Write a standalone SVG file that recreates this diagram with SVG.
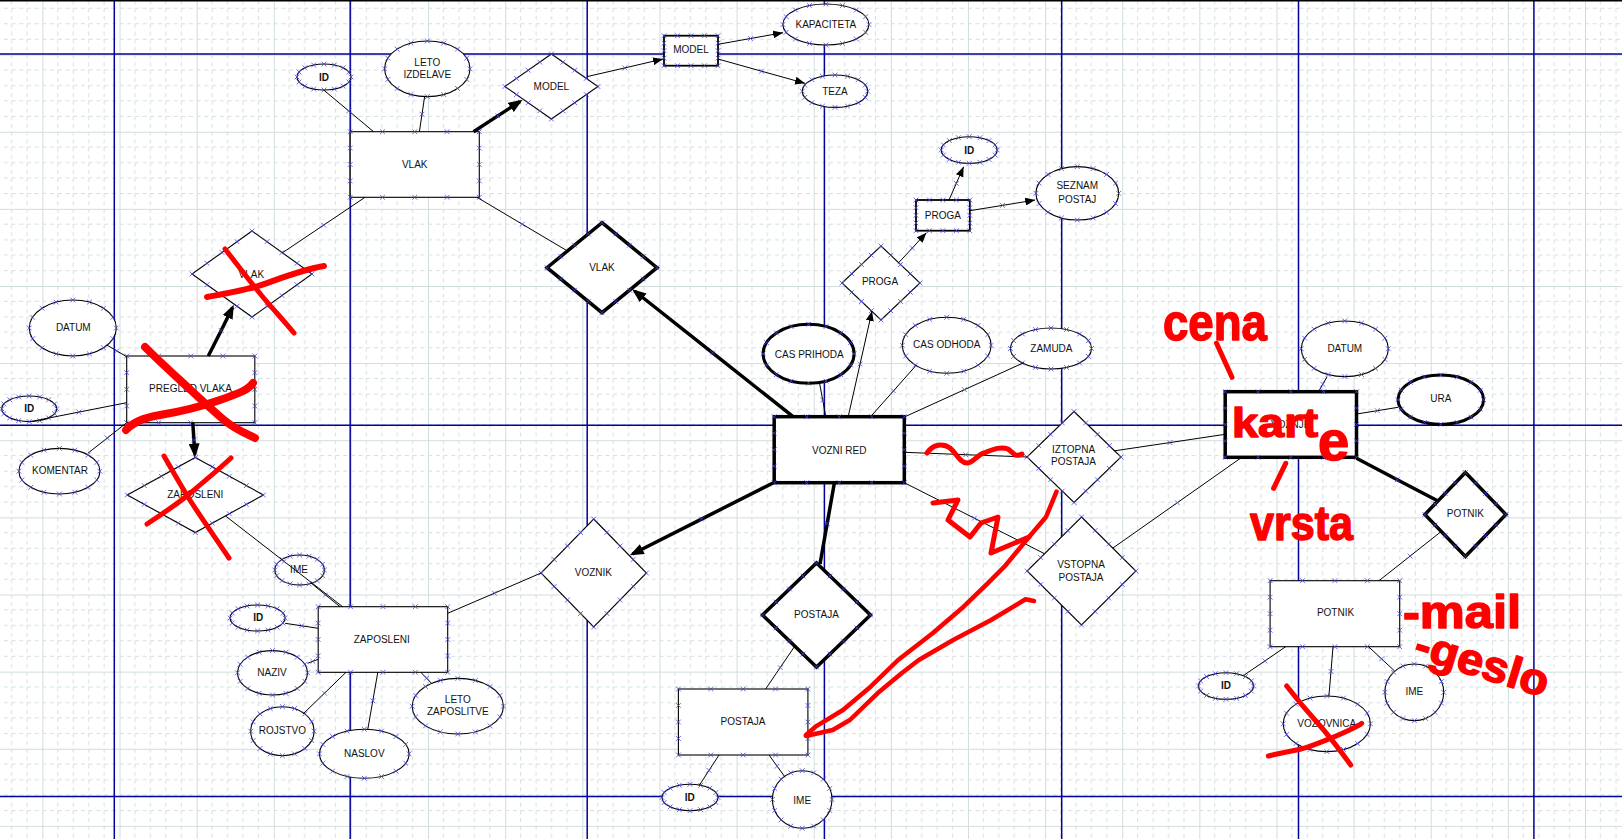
<svg xmlns="http://www.w3.org/2000/svg" width="1622" height="839" viewBox="0 0 1622 839">
<style>
.n{fill:#fff;stroke:#000;stroke-width:1.1}
.nm{fill:#fff;stroke:#000;stroke-width:1.8}
.nk{fill:#fff;stroke:#000;stroke-width:3.5}
.ek{fill:#fff;stroke:#000;stroke-width:3}
.c{fill:none;stroke:#000;stroke-width:1;marker-mid:url(#mx)}
.a{fill:none;stroke:#000;stroke-width:1;marker-mid:url(#mx);marker-end:url(#ah)}
.t{fill:none;stroke:#000;stroke-width:3.5;marker-mid:url(#mx)}
.ta{fill:none;stroke:#000;stroke-width:3.5;marker-mid:url(#mx);marker-end:url(#aht)}
.gl{stroke:#00009a;stroke-width:1.5}
text{font-family:"Liberation Sans",Arial,sans-serif;font-size:10px;fill:#111;text-anchor:middle;dominant-baseline:central}
.b{font-weight:bold}
.r{fill:none;stroke:#f00;stroke-linecap:round;stroke-linejoin:round}
text.rt{font-family:"Liberation Sans",Arial,sans-serif;font-weight:bold;fill:#f00;stroke:#f00;stroke-width:1.5;stroke-linejoin:round;text-anchor:start;dominant-baseline:auto}
</style>
<defs>
<pattern id="grid" patternUnits="userSpaceOnUse" x="42.4" y="54.6" width="77.13" height="77.13">
<path d="M15.43,0V77.13M30.85,0V77.13M46.28,0V77.13M61.7,0V77.13M0,15.43H77.13M0,30.85H77.13M0,46.28H77.13M0,61.7H77.13" stroke="#d3dfdf" stroke-width="1" stroke-dasharray="4 3.713" fill="none"/>
<path d="M0.5,0V77.13M0,0.5H77.13" stroke="#d0dcdc" stroke-width="1" fill="none"/>
</pattern>
<marker id="mx" markerUnits="userSpaceOnUse" viewBox="0 0 8 8" refX="4" refY="4" markerWidth="8" markerHeight="8" orient="0"><path d="M1.6,1.6L6.4,6.4M1.6,6.4L6.4,1.6" stroke="#4646d8" stroke-width="0.8" fill="none"/></marker>
<marker id="ah" markerUnits="userSpaceOnUse" viewBox="0 0 10 8" refX="10" refY="4" markerWidth="10" markerHeight="8" orient="auto"><path d="M0,0L10,4L0,8z" fill="#000"/></marker>
<marker id="aht" markerUnits="userSpaceOnUse" viewBox="0 0 14 11" refX="11" refY="5.5" markerWidth="14" markerHeight="11" orient="auto"><path d="M0,0L14,5.5L0,11z" fill="#000"/></marker>
<g id="xm"><path d="M-2.4,-2.4L2.4,2.4M-2.4,2.4L2.4,-2.4" stroke="#4646d8" stroke-width="0.8" fill="none"/></g>
<g id="er">
<use href="#xm" style="transform:translate(calc(var(--w)*1px),0px)"/>
<use href="#xm" style="transform:translate(calc(var(--w)*.924px),calc(var(--h)*.383px))"/>
<use href="#xm" style="transform:translate(calc(var(--w)*.707px),calc(var(--h)*.707px))"/>
<use href="#xm" style="transform:translate(calc(var(--w)*.383px),calc(var(--h)*.924px))"/>
<use href="#xm" style="transform:translate(0px,calc(var(--h)*1px))"/>
<use href="#xm" style="transform:translate(calc(var(--w)*-.383px),calc(var(--h)*.924px))"/>
<use href="#xm" style="transform:translate(calc(var(--w)*-.707px),calc(var(--h)*.707px))"/>
<use href="#xm" style="transform:translate(calc(var(--w)*-.924px),calc(var(--h)*.383px))"/>
<use href="#xm" style="transform:translate(calc(var(--w)*-1px),0px)"/>
<use href="#xm" style="transform:translate(calc(var(--w)*-.924px),calc(var(--h)*-.383px))"/>
<use href="#xm" style="transform:translate(calc(var(--w)*-.707px),calc(var(--h)*-.707px))"/>
<use href="#xm" style="transform:translate(calc(var(--w)*-.383px),calc(var(--h)*-.924px))"/>
<use href="#xm" style="transform:translate(0px,calc(var(--h)*-1px))"/>
<use href="#xm" style="transform:translate(calc(var(--w)*.383px),calc(var(--h)*-.924px))"/>
<use href="#xm" style="transform:translate(calc(var(--w)*.707px),calc(var(--h)*-.707px))"/>
<use href="#xm" style="transform:translate(calc(var(--w)*.924px),calc(var(--h)*-.383px))"/>
</g>
<g id="rr">
<use href="#xm" style="transform:translate(calc(var(--w)*1px),calc(var(--h)*1px))"/>
<use href="#xm" style="transform:translate(calc(var(--w)*.5px),calc(var(--h)*1px))"/>
<use href="#xm" style="transform:translate(0px,calc(var(--h)*1px))"/>
<use href="#xm" style="transform:translate(calc(var(--w)*-.5px),calc(var(--h)*1px))"/>
<use href="#xm" style="transform:translate(calc(var(--w)*-1px),calc(var(--h)*1px))"/>
<use href="#xm" style="transform:translate(calc(var(--w)*-1px),calc(var(--h)*.5px))"/>
<use href="#xm" style="transform:translate(calc(var(--w)*-1px),0px)"/>
<use href="#xm" style="transform:translate(calc(var(--w)*-1px),calc(var(--h)*-.5px))"/>
<use href="#xm" style="transform:translate(calc(var(--w)*-1px),calc(var(--h)*-1px))"/>
<use href="#xm" style="transform:translate(calc(var(--w)*-.5px),calc(var(--h)*-1px))"/>
<use href="#xm" style="transform:translate(0px,calc(var(--h)*-1px))"/>
<use href="#xm" style="transform:translate(calc(var(--w)*.5px),calc(var(--h)*-1px))"/>
<use href="#xm" style="transform:translate(calc(var(--w)*1px),calc(var(--h)*-1px))"/>
<use href="#xm" style="transform:translate(calc(var(--w)*1px),calc(var(--h)*-.5px))"/>
<use href="#xm" style="transform:translate(calc(var(--w)*1px),0px)"/>
<use href="#xm" style="transform:translate(calc(var(--w)*1px),calc(var(--h)*.5px))"/>
</g>
<g id="dr">
<use href="#xm" style="transform:translate(calc(var(--w)*1px),0px)"/>
<use href="#xm" style="transform:translate(calc(var(--w)*.75px),calc(var(--h)*.25px))"/>
<use href="#xm" style="transform:translate(calc(var(--w)*.5px),calc(var(--h)*.5px))"/>
<use href="#xm" style="transform:translate(calc(var(--w)*.25px),calc(var(--h)*.75px))"/>
<use href="#xm" style="transform:translate(0px,calc(var(--h)*1px))"/>
<use href="#xm" style="transform:translate(calc(var(--w)*-.25px),calc(var(--h)*.75px))"/>
<use href="#xm" style="transform:translate(calc(var(--w)*-.5px),calc(var(--h)*.5px))"/>
<use href="#xm" style="transform:translate(calc(var(--w)*-.75px),calc(var(--h)*.25px))"/>
<use href="#xm" style="transform:translate(calc(var(--w)*-1px),0px)"/>
<use href="#xm" style="transform:translate(calc(var(--w)*-.75px),calc(var(--h)*-.25px))"/>
<use href="#xm" style="transform:translate(calc(var(--w)*-.5px),calc(var(--h)*-.5px))"/>
<use href="#xm" style="transform:translate(calc(var(--w)*-.25px),calc(var(--h)*-.75px))"/>
<use href="#xm" style="transform:translate(0px,calc(var(--h)*-1px))"/>
<use href="#xm" style="transform:translate(calc(var(--w)*.25px),calc(var(--h)*-.75px))"/>
<use href="#xm" style="transform:translate(calc(var(--w)*.5px),calc(var(--h)*-.5px))"/>
<use href="#xm" style="transform:translate(calc(var(--w)*.75px),calc(var(--h)*-.25px))"/>
</g>
</defs>
<rect width="1622" height="839" fill="#fff"/>
<rect width="1622" height="839" fill="url(#grid)"/>
<g id="page-lines" class="gl">
<line x1="114.3" y1="0" x2="114.3" y2="839"/><line x1="350.2" y1="0" x2="350.2" y2="839"/><line x1="587.2" y1="0" x2="587.2" y2="839"/><line x1="824.4" y1="0" x2="824.4" y2="839"/><line x1="1061.7" y1="0" x2="1061.7" y2="839"/><line x1="1298.5" y1="0" x2="1298.5" y2="839"/><line x1="1533.9" y1="0" x2="1533.9" y2="839"/>
<line x1="0" y1="54" x2="1622" y2="54"/><line x1="0" y1="425.3" x2="1622" y2="425.3"/><line x1="0" y1="796.5" x2="1622" y2="796.5"/>
</g>
<line x1="0" y1="0.75" x2="1622" y2="0.75" stroke="#000" stroke-width="1.5"/>

<g id="nodes">
<g id="vlak"><rect class="n" x="350.2" y="131.7" width="129.1" height="65.6"/><use href="#rr" transform="translate(414.75 164.5)" style="--w:64.55;--h:32.8"/><text x="414.75" y="164">VLAK</text></g>
<g id="vlak-id"><ellipse class="n" cx="324" cy="77" rx="27" ry="13"/><use href="#er" transform="translate(324 77)" style="--w:27;--h:13"/><text class="b" x="324" y="77">ID</text></g>
<g id="vlak-leto"><ellipse class="n" cx="427.3" cy="68.8" rx="42.7" ry="27.8"/><use href="#er" transform="translate(427.3 68.8)" style="--w:42.7;--h:27.8"/><text x="427.3" y="62.7">LETO</text><text x="427.3" y="74.7">IZDELAVE</text></g>
<g id="model-rel"><polygon class="n" points="551.4,54 597.9,86.5 551.4,119 504.9,86.5"/><use href="#dr" transform="translate(551.4 86.5)" style="--w:46.5;--h:32.5"/><text x="551.4" y="86.5">MODEL</text></g>
<g id="model"><rect class="nm" x="664" y="35.7" width="54" height="30"/><use href="#rr" transform="translate(691 50.7)" style="--w:27;--h:15"/><text x="691" y="49.8">MODEL</text></g>
<g id="kapaciteta"><ellipse class="n" cx="825.9" cy="24.5" rx="43" ry="20.5"/><use href="#er" transform="translate(825.9 24.5)" style="--w:43;--h:20.5"/><text x="825.9" y="24">KAPACITETA</text></g>
<g id="teza"><ellipse class="n" cx="835" cy="91.2" rx="32.7" ry="16.2"/><use href="#er" transform="translate(835 91.2)" style="--w:32.7;--h:16.2"/><text x="835" y="91">TEZA</text></g>
<g id="vlak-rel-x"><polygon class="n" points="252,231 312,274 252,317 192,274"/><use href="#dr" transform="translate(252 274)" style="--w:60;--h:43"/><text x="251.4" y="274">VLAK</text></g>
<g id="vlak-rel"><polygon class="nk" points="602,222.7 657,267.7 602,312.7 547,267.7"/><use href="#dr" transform="translate(602 267.7)" style="--w:55;--h:45"/><text x="602" y="267.7">VLAK</text></g>
<g id="proga-rel"><polygon class="n" points="881,246 920,283 881,320 842,283"/><use href="#dr" transform="translate(881 283)" style="--w:39;--h:37"/><text x="880" y="281.5">PROGA</text></g>
<g id="proga"><rect class="nm" x="916" y="200" width="53.8" height="30.7"/><use href="#rr" transform="translate(942.9 215.35)" style="--w:26.9;--h:15.35"/><text x="942.9" y="215.3">PROGA</text></g>
<g id="proga-id"><ellipse class="n" cx="969.2" cy="150" rx="28" ry="13.3"/><use href="#er" transform="translate(969.2 150)" style="--w:28;--h:13.3"/><text class="b" x="969.2" y="150">ID</text></g>
<g id="seznam"><ellipse class="n" cx="1077.3" cy="193.3" rx="41.4" ry="26.7"/><use href="#er" transform="translate(1077.3 193.3)" style="--w:41.4;--h:26.7"/><text x="1077.3" y="185.3">SEZNAM</text><text x="1077.3" y="199">POSTAJ</text></g>
<g id="pregled"><rect class="n" x="126.7" y="356" width="128.1" height="66.7"/><use href="#rr" transform="translate(190.75 389.35)" style="--w:64.05;--h:33.35"/><text x="190.5" y="388.3">PREGLED VLAKA</text></g>
<g id="pregled-datum"><ellipse class="n" cx="72.8" cy="328" rx="43.5" ry="28"/><use href="#er" transform="translate(72.8 328)" style="--w:43.5;--h:28"/><text x="73.3" y="327.5">DATUM</text></g>
<g id="pregled-id"><ellipse class="n" cx="29.2" cy="408.8" rx="27.5" ry="12.8"/><use href="#er" transform="translate(29.2 408.8)" style="--w:27.5;--h:12.8"/><text class="b" x="29.3" y="408">ID</text></g>
<g id="komentar"><ellipse class="n" cx="59.4" cy="471.2" rx="40.5" ry="22.8"/><use href="#er" transform="translate(59.4 471.2)" style="--w:40.5;--h:22.8"/><text x="60" y="470.7">KOMENTAR</text></g>
<g id="zap-rel-x"><polygon class="n" points="195.3,457.5 263.3,495 195.3,532.5 127.3,495"/><use href="#dr" transform="translate(195.3 495)" style="--w:68;--h:37.5"/><text x="195.3" y="494">ZAPOSLENI</text></g>
<g id="zaposleni"><rect class="n" x="318.2" y="606.7" width="129.5" height="65.6"/><use href="#rr" transform="translate(382.95 639.5)" style="--w:64.75;--h:32.8"/><text x="381.8" y="639">ZAPOSLENI</text></g>
<g id="zap-ime"><ellipse class="n" cx="299.6" cy="570" rx="24.8" ry="15"/><use href="#er" transform="translate(299.6 570)" style="--w:24.8;--h:15"/><text x="299" y="569.3">IME</text></g>
<g id="zap-id"><ellipse class="n" cx="257.6" cy="618" rx="27.5" ry="13"/><use href="#er" transform="translate(257.6 618)" style="--w:27.5;--h:13"/><text class="b" x="258.3" y="617.7">ID</text></g>
<g id="naziv"><ellipse class="n" cx="272.5" cy="672.8" rx="35" ry="22.2"/><use href="#er" transform="translate(272.5 672.8)" style="--w:35;--h:22.2"/><text x="272" y="672.7">NAZIV</text></g>
<g id="rojstvo"><ellipse class="n" cx="282.4" cy="731.2" rx="31.7" ry="24.5"/><use href="#er" transform="translate(282.4 731.2)" style="--w:31.7;--h:24.5"/><text x="282.4" y="730.7">ROJSTVO</text></g>
<g id="naslov"><ellipse class="n" cx="364.3" cy="753.8" rx="44.8" ry="24.5"/><use href="#er" transform="translate(364.3 753.8)" style="--w:44.8;--h:24.5"/><text x="364.3" y="753.3">NASLOV</text></g>
<g id="leto-zap"><ellipse class="n" cx="457.8" cy="706.2" rx="45.6" ry="27.8"/><use href="#er" transform="translate(457.8 706.2)" style="--w:45.6;--h:27.8"/><text x="457.8" y="699.3">LETO</text><text x="457.8" y="711.7">ZAPOSLITVE</text></g>
<g id="voznik"><polygon class="n" points="593.7,519 646.4,573 593.7,627 541,573"/><use href="#dr" transform="translate(593.7 573)" style="--w:52.7;--h:54"/><text x="593.4" y="572.3">VOZNIK</text></g>
<g id="vozni-red"><rect class="nk" x="774.2" y="416.7" width="130.1" height="66"/><use href="#rr" transform="translate(839.25 449.7)" style="--w:65.05;--h:33"/><text x="839.2" y="450">VOZNI RED</text></g>
<g id="cas-prihoda"><ellipse class="ek" cx="808.6" cy="353.8" rx="45.5" ry="29.5"/><use href="#er" transform="translate(808.6 353.8)" style="--w:45.5;--h:29.5"/><text x="809.3" y="354.3">CAS PRIHODA</text></g>
<g id="cas-odhoda"><ellipse class="n" cx="946.7" cy="345.3" rx="44.4" ry="28"/><use href="#er" transform="translate(946.7 345.3)" style="--w:44.4;--h:28"/><text x="946.7" y="344">CAS ODHODA</text></g>
<g id="zamuda"><ellipse class="n" cx="1051" cy="348.5" rx="40.5" ry="20.5"/><use href="#er" transform="translate(1051 348.5)" style="--w:40.5;--h:20.5"/><text x="1051.4" y="348.7">ZAMUDA</text></g>
<g id="postaja-rel"><polygon class="nk" points="816.5,563 870.5,615 816.5,667 762.5,615"/><use href="#dr" transform="translate(816.5 615)" style="--w:54;--h:52"/><text x="816.5" y="614.3">POSTAJA</text></g>
<g id="postaja"><rect class="n" x="678.4" y="689" width="129.5" height="66"/><use href="#rr" transform="translate(743.15 722)" style="--w:64.75;--h:33"/><text x="743" y="721.7">POSTAJA</text></g>
<g id="postaja-id"><ellipse class="n" cx="690" cy="797.5" rx="28" ry="13.2"/><use href="#er" transform="translate(690 797.5)" style="--w:28;--h:13.2"/><text class="b" x="689.8" y="797.7">ID</text></g>
<g id="postaja-ime"><ellipse class="n" cx="802.2" cy="799.5" rx="29.8" ry="28.8"/><use href="#er" transform="translate(802.2 799.5)" style="--w:29.8;--h:28.8"/><text x="802.2" y="800.7">IME</text></g>
<g id="iztopna"><polygon class="n" points="1074,411.5 1121,457 1074,502.5 1027,457"/><use href="#dr" transform="translate(1074 457)" style="--w:47;--h:45.5"/><text x="1073.5" y="449.3">IZTOPNA</text><text x="1073.5" y="461.7">POSTAJA</text></g>
<g id="vstopna"><polygon class="n" points="1081.5,517 1135.9,571 1081.5,625 1027.1,571"/><use href="#dr" transform="translate(1081.5 571)" style="--w:54.4;--h:54"/><text x="1081" y="564.5">VSTOPNA</text><text x="1081" y="577">POSTAJA</text></g>
<g id="karte"><rect class="nk" x="1225.2" y="391.7" width="131.3" height="65.6"/><use href="#rr" transform="translate(1290.85 424.5)" style="--w:65.65;--h:32.8"/><text x="1290.8" y="424">VOZNJE</text></g>
<g id="karte-datum"><ellipse class="n" cx="1344.8" cy="348.8" rx="43.5" ry="27.8"/><use href="#er" transform="translate(1344.8 348.8)" style="--w:43.5;--h:27.8"/><text x="1344.8" y="348.7">DATUM</text></g>
<g id="ura"><ellipse class="ek" cx="1440.8" cy="399.7" rx="42.8" ry="24.7"/><use href="#er" transform="translate(1440.8 399.7)" style="--w:42.8;--h:24.7"/><text x="1440.8" y="398.7">URA</text></g>
<g id="potnik-rel"><polygon class="nk" points="1465.4,472.5 1505.9,514.5 1465.4,556.5 1424.9,514.5"/><use href="#dr" transform="translate(1465.4 514.5)" style="--w:40.5;--h:42"/><text x="1465.4" y="513.3">POTNIK</text></g>
<g id="potnik"><rect class="n" x="1270.1" y="580.7" width="129.6" height="66"/><use href="#rr" transform="translate(1334.9 613.7)" style="--w:64.8;--h:33"/><text x="1335.5" y="612.3">POTNIK</text></g>
<g id="potnik-id"><ellipse class="n" cx="1226" cy="686" rx="27.5" ry="13.3"/><use href="#er" transform="translate(1226 686)" style="--w:27.5;--h:13.3"/><text class="b" x="1226" y="685.7">ID</text></g>
<g id="vozovnica"><ellipse class="n" cx="1326.8" cy="723.8" rx="43.6" ry="27.8"/><use href="#er" transform="translate(1326.8 723.8)" style="--w:43.6;--h:27.8"/><text x="1326.8" y="723.3">VOZOVNICA</text></g>
<g id="potnik-ime"><ellipse class="n" cx="1414.3" cy="692.3" rx="29.4" ry="28.3"/><use href="#er" transform="translate(1414.3 692.3)" style="--w:29.4;--h:28.3"/><text x="1414.3" y="691.7">IME</text></g>
</g>

<g id="connectors">
<path class="c" d="M323.7,90 L348.7,110.9 L373.6,131.7"/>
<path class="c" d="M424.6,96.7 L422,114.2 L419.4,131.7"/>
<path class="c" d="M365,197.3 L323.7,225.1 L282.4,252.8"/>
<path class="c" d="M477,197.3 L522.3,224.2 L567.5,251"/>
<path class="c" d="M106.8,345 L116.8,350.9 L126.7,356.7"/>
<path class="c" d="M31,421.5 L78.9,412.1 L126.7,402.7"/>
<path class="c" d="M87.8,453.3 L107.3,438 L126.7,422.7"/>
<path class="c" d="M225.6,516 L284.1,561.4 L342.6,606.7"/>
<path class="c" d="M311,583 L325.5,594.9 L340,606.7"/>
<path class="c" d="M285.1,623.3 L301.7,625.8 L318.2,628.3"/>
<path class="c" d="M307.5,663.3 L312.9,661.3 L318.2,659.3"/>
<path class="c" d="M303,714 L324.5,693.2 L346,672.3"/>
<path class="c" d="M367.8,729.3 L372.8,700.8 L377.8,672.3"/>
<path class="c" d="M432.2,684 L426.5,678.2 L420.8,672.3"/>
<path class="c" d="M541,573 L494.4,593.2 L447.7,613.3"/>
<path class="c" d="M794.8,646.1 L780.2,667.6 L765.6,689"/>
<path class="c" d="M719,755 L709,770.4 L699.1,785.7"/>
<path class="c" d="M769,755 L777.1,766.2 L785.2,777.3"/>
<path class="c" d="M819.6,383.3 L822.7,400 L825.8,416.7"/>
<path class="c" d="M916.4,365 L893.5,390.9 L870.6,416.7"/>
<path class="c" d="M1023.8,362.7 L964.4,389.7 L905,416.7"/>
<path class="c" d="M904.3,452.3 L965.7,454.7 L1027,457"/>
<path class="c" d="M904.3,482.7 L974.4,518.2 L1044.5,553.7"/>
<path class="c" d="M1114.6,450.8 L1169.9,442.6 L1225.2,434.3"/>
<path class="c" d="M1112.8,548.1 L1177.3,502.7 L1241.8,457.3"/>
<path class="c" d="M1327.1,376.7 L1322.8,384.2 L1318.5,391.7"/>
<path class="c" d="M1356.5,414 L1377.3,410.7 L1398,407.3"/>
<path class="c" d="M1441.2,531.5 L1410.1,556.1 L1379,580.7"/>
<path class="c" d="M1285.7,646.7 L1265,660.9 L1244.2,675"/>
<path class="c" d="M1333,646.7 L1331,671.4 L1328.9,696"/>
<path class="c" d="M1368.6,646.7 L1381.6,658.9 L1394.6,671"/>
<path class="a" d="M586.8,76.7 L624.9,67.9 L663,59"/>
<path class="a" d="M718,44.3 L750.5,38.5 L783,32.7"/>
<path class="a" d="M718,59 L761.5,71.2 L805,83.3"/>
<path class="a" d="M949,200 L956.3,183.4 L963.6,166.7"/>
<path class="a" d="M969.8,210.7 L1002.5,205.4 L1035.2,200"/>
<path class="a" d="M898.1,263.3 L912.3,248 L926.4,232.7"/>
<path class="a" d="M848.2,416.7 L860.1,363.9 L872,311"/>
<path class="ta" d="M473.5,131.7 L497.8,115.9 L520,101.5"/>
<path class="ta" d="M208.3,356 L221.2,330.5 L232.5,307.5"/>
<path class="ta" d="M192.8,422.7 L193.9,439.9 L194.8,454.5"/>
<path class="ta" d="M793.1,416.7 L712.6,352.9 L634.5,291"/>
<path class="ta" d="M773.5,482.7 L701.5,519.1 L632.5,554"/>
<path class="t" d="M834.4,482.7 L827.2,523.4 L820,564"/>
<path class="t" d="M1356.5,458.3 L1397.3,479.7 L1438,501"/>
</g>

<g id="annotations">
<path class="r" stroke-width="5" d="M225,249 C240,268 252,284 262,296 S285,322 294,333"/>
<path class="r" stroke-width="6" d="M207,297 C228,293 245,290 258,286 S300,270 324,266"/>
<path class="r" stroke-width="8" d="M145,347 C158,360 170,371 182,382 S212,410 224,420 S245,433 255,438"/>
<path class="r" stroke-width="8" d="M126,430 C132,423 142,418 160,415 S200,407 220,400 S248,390 253,383"/>
<path class="r" stroke-width="5" d="M164,456 C172,470 180,484 188,497 S210,530 229,558"/>
<path class="r" stroke-width="5" d="M147,524 C162,514 176,505 188,495 S218,470 231,458"/>
<path class="r" stroke-width="5" d="M927,453 C933,444 943,443 950,448 C956,453 960,463 967,463 C973,463 977,455 984,453 C992,450 1000,446 1008,449 C1013,452 1014,458 1022,454"/>
<path class="r" stroke-width="5" d="M933,503 L958,500 L948,520 L970,537 L981,523 L998,517 L991,553 L1029,537"/>
<path class="r" stroke-width="4.5" d="M1056.5,491.7 L1046,517 L1029,537 L1005,566 L987.7,583.3 L963.6,606.7 L932.6,633.3 L898.1,660 L870.6,686.7 L843,710 L815.5,726.7 L806,735"/>
<path class="r" stroke-width="4.5" d="M1034,601 L1025.5,599.3 L991.1,620 L953.2,640 L918.8,660 L901.6,673.3 L877.5,693.3 L849.9,720 L832.7,730 L806,736"/>
<path class="r" stroke-width="5" d="M1216.5,343.3 L1232,377.3"/>
<path class="r" stroke-width="5" d="M1285.7,463.3 L1273.6,488.3"/>
<path class="r" stroke-width="5" d="M1286.7,686 C1296,698 1306,710 1315,720 S1340,750 1350.7,765"/>
<path class="r" stroke-width="5" d="M1268.4,756 C1280,753 1292,751 1301,749 S1340,735 1353,728.3 S1360,724 1361.7,723.3"/>
<text class="rt" x="1163" y="340" style="font-size:52px" textLength="104" lengthAdjust="spacingAndGlyphs">cena</text>
<text class="rt"><tspan x="1232" y="437" style="font-size:40px" textLength="86" lengthAdjust="spacingAndGlyphs">kart</tspan><tspan x="1318" y="460" style="font-size:56px">e</tspan></text>
<text class="rt" x="1250" y="540" style="font-size:48px" textLength="103" lengthAdjust="spacingAndGlyphs">vrsta</text>
<text class="rt" x="1403" y="628" style="font-size:46px" textLength="118" lengthAdjust="spacingAndGlyphs">-mail</text>
<text class="rt" x="1412" y="657" style="font-size:44px" textLength="138" lengthAdjust="spacingAndGlyphs" transform="rotate(17 1412 657)">-geslo</text>
</g>
</svg>
